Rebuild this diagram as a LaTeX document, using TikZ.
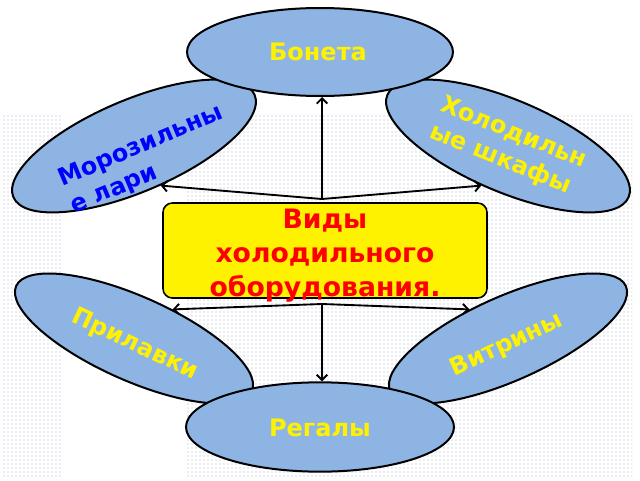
\documentclass[tikz,border=0pt]{standalone}
\usepackage{fontspec}
\setmainfont{DejaVu Sans}
\usetikzlibrary{shapes.geometric,arrows.meta,patterns}
\definecolor{ovalblue}{RGB}{142,180,227}
\definecolor{dotgray}{RGB}{160,174,200}

\begin{document}
\begin{tikzpicture}[x=0.75pt,y=0.75pt,
    oval/.style={ellipse,draw=black,line width=1.5pt,fill=ovalblue,inner sep=0pt},
    ovaltext/.style={font=\fontsize{18}{22}\selectfont\bfseries,align=left,inner sep=0pt},
    link/.style={line width=1.4pt,-{Straight Barb[length=4pt,width=8pt]}}]
        \useasboundingbox (0,0) rectangle (640,480);
        % dotted backdrop
        \fill[pattern=dots,pattern color=dotgray] (2,3) rectangle (63,367);
        \fill[pattern=dots,pattern color=dotgray] (185,3) rectangle (632,367);
        % side ovals first, top and bottom ones over them
        \node[oval,minimum width=196.5pt,minimum height=69pt,rotate=23] (freezer) at (134,334) {};
        \node[oval,minimum width=196.5pt,minimum height=69pt,rotate=-23] (fridge) at (508,334) {};
        \node[oval,minimum width=193.5pt,minimum height=63pt,rotate=-24] (counter) at (134,141.5) {};
        \node[oval,minimum width=193.5pt,minimum height=63pt,rotate=24] (vitrine) at (508,141.5) {};
        \node[oval,minimum width=199.5pt,minimum height=66pt] (bonet) at (320,428) {};
        \node[oval,minimum width=201pt,minimum height=67pt] (regal) at (320,53) {};
        % centre box
        \node[draw=black,line width=1.2pt,fill=yellow,rounded corners=7pt,
              minimum width=243pt,minimum height=71.25pt,inner sep=0pt] (box) at (325,229.5) {};
        \coordinate (jt) at (322,281);
        \coordinate (jb) at (322,176);
        \draw[link] (jt) -- (jt |- bonet.south);
        \draw[link] (jt) -- (freezer.-79);
        \draw[link] (jt) -- (fridge.-101);
        \draw[link] (jb) -- (counter.61);
        \draw[link] (jb) -- (vitrine.119);
        \draw[link] (jb) -- (jb |- regal.north);
        \node[font=\fontsize{20}{25.5}\selectfont\bfseries,text=red,align=center,inner sep=0pt] (title) at (325,224)
            {Виды\\холодильного\\оборудования.};
        % oval labels
        \node[ovaltext,text=yellow] (bonettxt) at (318,428) {Бонета};
        \node[ovaltext,text=yellow] (regaltxt) at (320,52) {Регалы};
        \node[ovaltext,text=blue,rotate=23] (freezertxt) at (147,320) {Морозильны\\е лари};
        \node[ovaltext,text=yellow,rotate=-22] (fridgetxt) at (508,333) {Холодильн\\ые шкафы};
        \node[ovaltext,text=yellow,rotate=-25] (countertxt) at (135,135) {Прилавки};
        \node[ovaltext,text=yellow,rotate=25] (vitrinetxt) at (507,135) {Витрины};
\end{tikzpicture}
\end{document}
